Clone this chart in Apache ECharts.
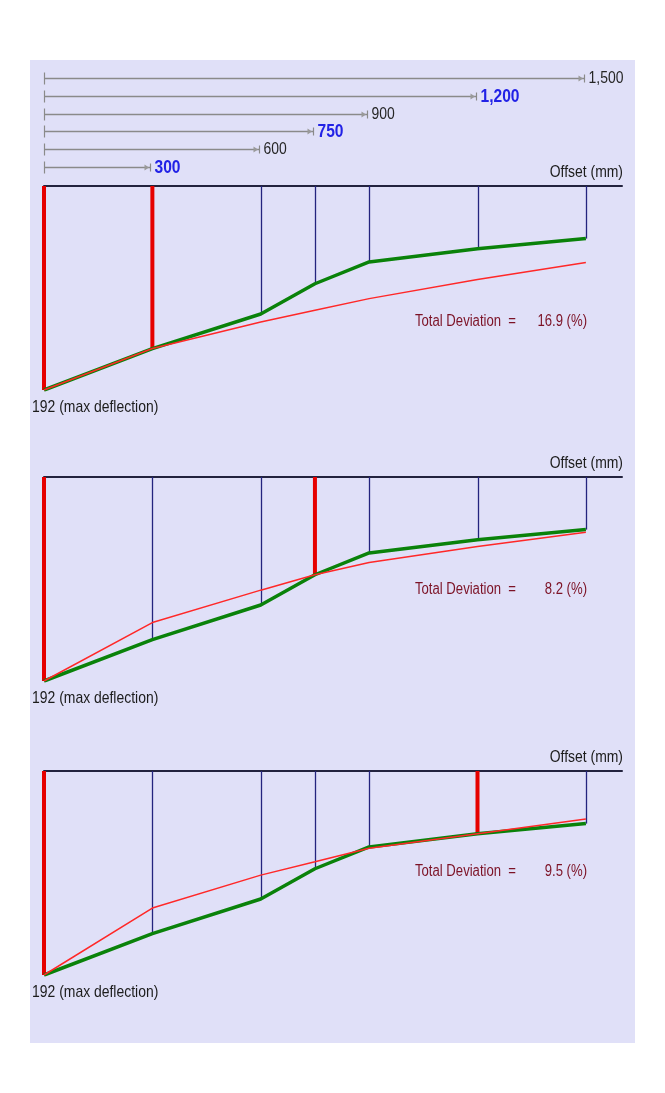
<!DOCTYPE html>
<html><head><meta charset="utf-8">
<script src="https://cdn.jsdelivr.net/npm/echarts@6/dist/echarts.min.js"></script>
<style>html,body{margin:0;padding:0;background:#fff;}#c{width:665px;height:1093px;}</style>
</head><body><div id="c"></div>
<script>
// ---- data ----
const offsets = [0, 300, 600, 750, 900, 1200, 1500];          // mm
const measured = [192, 153, 120.5, 92, 71.5, 59, 49.5];       // green (measured deflection)
const fit1 = [192, 153, 128, 117, 106, 88, 72];               // red fits
const fit2 = [192, 137, 106.5, 92, 80.5, 65.5, 52];
const fit3 = [192, 129, 98, 85.5, 72.8, 59, 45.2];
const anchor1 = [0, 300];
const anchor2 = [0, 750];
const anchor3 = [0, 1200];
const deviations = ['16.9', '8.2', '9.5'];
const rangeValues = [1500, 1200, 900, 750, 600, 300];
const rangeLabels = ['1,500', '1,200', '900', '750', '600', '300'];
const rangeBold = [false, true, false, true, false, true];

const FONT = '"Liberation Sans",Arial,sans-serif';
const SX = 0.82; // condensed look
const fits = [fit1, fit2, fit3];
const anchors = [anchor1, anchor2, anchor3];
const gridTops = [186, 477, 771];
const gridH = 204;
const L = 44, W = 578;

function narrowText(x, y, text, font, fill, align, extra) {
  return Object.assign({type: 'text', x: x, y: y, scaleX: SX,
    style: {x: 0, y: 0, text: text, font: font, fill: fill, align: align, verticalAlign: 'middle'}}, extra || {});
}

const chart = echarts.init(document.getElementById('c'), null, {renderer: 'canvas'});

const grids = [{left: L, width: W, top: 69, height: 107}];
const xAxes = [{gridIndex: 0, type: 'value', min: 0, max: 1600, show: false}];
const yAxes = [{gridIndex: 0, type: 'category', inverse: true, data: rangeLabels, show: false}];
const series = [];
const graphics = [{type: 'rect', shape: {x: 30, y: 60, width: 605, height: 983}, style: {fill: '#e0e0f8'}, z: -10, silent: true}];

series.push({
  type: 'custom', xAxisIndex: 0, yAxisIndex: 0,
  data: rangeValues.map((v, i) => [v, i]),
  renderItem: function (params, api) {
    const v = api.value(0), idx = api.value(1);
    const s = api.coord([0, idx]), e = api.coord([v, idx]);
    const y = Math.round(s[1]) + 0.5;
    const sx = Math.round(s[0]) + 0.5, ex = Math.round(e[0]) - 1.5;
    const hl = rangeBold[params.dataIndex];
    return {type: 'group', children: [
      {type: 'line', shape: {x1: sx, y1: y, x2: ex, y2: y}, style: {stroke: '#8a8a8a', lineWidth: 1.3}},
      {type: 'line', shape: {x1: sx, y1: y - 6, x2: sx, y2: y + 6}, style: {stroke: '#8a8a8a', lineWidth: 1.2}},
      {type: 'polygon', shape: {points: [[ex - 6, y - 3], [ex - 6, y + 3], [ex - 1.5, y]]}, style: {fill: '#9a9a9a'}},
      {type: 'line', shape: {x1: ex, y1: y - 4, x2: ex, y2: y + 4}, style: {stroke: '#8a8a8a', lineWidth: 1.2}},
      narrowText(ex + 4, y, rangeLabels[params.dataIndex], (hl ? 'bold 19px ' : '17px ') + FONT,
        hl ? '#2222e6' : '#262626', 'left')
    ]};
  }
});

for (let k = 0; k < 3; k++) {
  const gi = k + 1;
  grids.push({left: L, width: W, top: gridTops[k], height: gridH});
  xAxes.push({gridIndex: gi, type: 'value', min: 0, max: 1600, position: 'top',
    axisLine: {show: true, onZero: false, lineStyle: {color: '#23233f', width: 2}},
    axisTick: {show: false}, axisLabel: {show: false}, splitLine: {show: false}});
  yAxes.push({gridIndex: gi, type: 'value', min: 0, max: 192, inverse: true, show: false, splitLine: {show: false}});

  // vertical lines
  series.push({
    type: 'custom', xAxisIndex: gi, yAxisIndex: gi, z: 1,
    data: offsets.map((x, i) => [x, measured[i], anchors[k].indexOf(x) >= 0 ? 1 : 0]),
    renderItem: function (params, api) {
      const t = api.coord([api.value(0), 0]), b = api.coord([api.value(0), api.value(1)]);
      const a = api.value(2) === 1;
      const x = a ? t[0] : Math.round(t[0]) + 0.5;
      return {type: 'line', shape: {x1: x, y1: t[1], x2: x, y2: b[1]},
        style: {stroke: a ? '#e60000' : '#24247e', lineWidth: a ? 4 : 1.3}};
    }
  });
  // measured (green)
  series.push({type: 'line', xAxisIndex: gi, yAxisIndex: gi, z: 2, symbol: 'none',
    data: offsets.map((x, i) => [x, measured[i]]),
    lineStyle: {color: '#0a820a', width: 3.5}, silent: true});
  // fit (red)
  series.push({type: 'line', xAxisIndex: gi, yAxisIndex: gi, z: 3, symbol: 'none',
    data: offsets.map((x, i) => [x, fits[k][i]]),
    lineStyle: {color: '#ff2828', width: 1.5}, silent: true});
  // max deflection label
  series.push({type: 'custom', xAxisIndex: gi, yAxisIndex: gi, z: 4,
    data: [[offsets[0], measured[0]]],
    renderItem: function (params, api) {
      const p = api.coord([api.value(0), api.value(1)]);
      return narrowText(p[0] - 12, p[1] + 17, api.value(1) + ' (max deflection)', '17px ' + FONT, '#1c1c1c', 'left');
    }, silent: true});

  graphics.push(narrowText(L + W + 1, gridTops[k] - 14, 'Offset (mm)', '17px ' + FONT, '#1c1c1c', 'right'));
}
const devY = [322, 590, 872];
for (let k = 0; k < 3; k++) {
  graphics.push(narrowText(415, devY[k], 'Total Deviation  =', '16px ' + FONT, '#7c1226', 'left'));
  graphics.push(narrowText(587, devY[k], deviations[k] + ' (%)', '16px ' + FONT, '#7c1226', 'right'));
}

chart.setOption({
  animation: false,
  grid: grids, xAxis: xAxes, yAxis: yAxes, series: series, graphic: graphics
});
</script></body></html>
